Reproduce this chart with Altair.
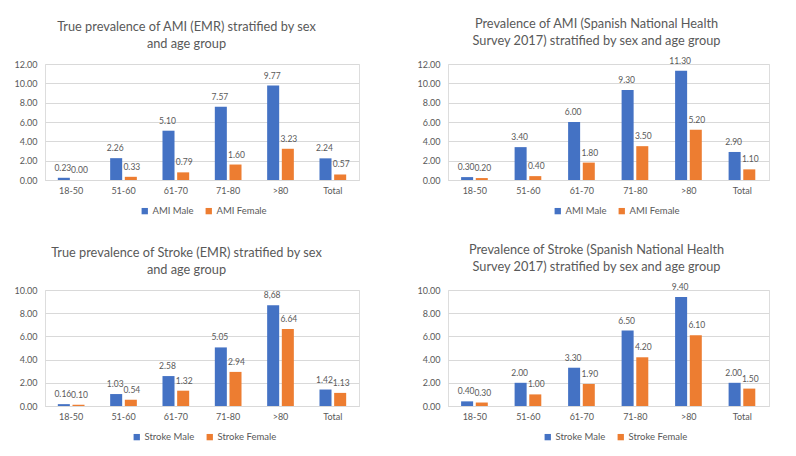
import altair as alt
import pandas as pd

categories = ["18-50", "51-60", "61-70", "71-80", ">80", "Total"]

ami_emr_male = [0.23, 2.26, 5.10, 7.57, 9.77, 2.24]
ami_emr_female = [0.00, 0.33, 0.79, 1.60, 3.23, 0.57]
ami_survey_male = [0.30, 3.40, 6.00, 9.30, 11.30, 2.90]
ami_survey_female = [0.20, 0.40, 1.80, 3.50, 5.20, 1.10]
stroke_emr_male = [0.16, 1.03, 2.58, 5.05, 8.68, 1.42]
stroke_emr_male_labels = ["0.16", "1.03", "2.58", "5.05", "8,68", "1.42"]
stroke_emr_female = [0.10, 0.54, 1.32, 2.94, 6.64, 1.13]
stroke_survey_male = [0.40, 2.00, 3.30, 6.50, 9.40, 2.00]
stroke_survey_female = [0.30, 1.00, 1.90, 4.20, 6.10, 1.50]

title_ami_emr = ["True prevalence of AMI (EMR) stratified by sex", "and age group"]
title_ami_survey = ["Prevalence of AMI (Spanish National Health", "Survey 2017) stratified by sex and age group"]
title_stroke_emr = ["True prevalence of Stroke (EMR) stratified by sex", "and age group"]
title_stroke_survey = ["Prevalence of Stroke (Spanish National Health", "Survey 2017) stratified by sex and age group"]

BLUE = "#4472C4"
ORANGE = "#ED7D31"
GREY = "#595959"
GRID = "#D9D9D9"
FONT = "Lato"
PLOT_H = 116


def panel(title_lines, disease, male, female, ymax, width, legend_x, frame, title_dx, male_labels=None):
    m_name = f"{disease} Male"
    f_name = f"{disease} Female"
    rows = []
    for i, c in enumerate(categories):
        ml = male_labels[i] if male_labels else f"{male[i]:.2f}"
        rows.append(dict(cat=c, sex="Male", series=m_name, value=male[i], label=ml))
        rows.append(dict(cat=c, sex="Female", series=f_name, value=female[i], label=f"{female[i]:.2f}"))
    df = pd.DataFrame(rows)
    base = alt.Chart(df).encode(
        x=alt.X("cat:N", sort=categories,
                scale=alt.Scale(paddingInner=0.49, paddingOuter=0.245),
                axis=alt.Axis(title=None, labelAngle=0, ticks=False, domainColor=GRID,
                              labelColor=GREY, labelFontSize=9, labelPadding=6, grid=False,
                              labelFont=FONT)),
        xOffset=alt.XOffset("sex:N", sort=["Male", "Female"], scale=alt.Scale(paddingInner=0.18)),
        y=alt.Y("value:Q", scale=alt.Scale(domain=[0, ymax], nice=False),
                axis=alt.Axis(title=None, values=list(range(0, ymax + 1, 2)), format=".2f",
                              ticks=False, domain=False, gridColor=GRID, labelColor=GREY,
                              labelFontSize=9, labelPadding=8, labelFont=FONT)),
    )
    bars = base.mark_bar().encode(
        color=alt.Color("series:N", sort=[m_name, f_name],
                        scale=alt.Scale(domain=[m_name, f_name], range=[BLUE, ORANGE]),
                        legend=alt.Legend(title=None, orient="none", legendX=legend_x,
                                          legendY=PLOT_H + 26, direction="horizontal",
                                          symbolType="square", symbolSize=40,
                                          symbolStrokeWidth=0, labelFontSize=9.5,
                                          labelColor=GREY, labelFont=FONT,
                                          columnPadding=10, labelOffset=3))
    )
    text_m = base.transform_filter(alt.datum.sex == "Male").mark_text(
        baseline="bottom", dy=-5, dx=-1, fontSize=8.5, color=GREY, font=FONT).encode(text="label:N")
    text_f = base.transform_filter(alt.datum.sex == "Female").mark_text(
        baseline="bottom", dy=-5, dx=1, fontSize=8.5, color=GREY, font=FONT).encode(text="label:N")
    return alt.layer(bars, text_m, text_f).properties(
        width=width, height=PLOT_H,
        title=alt.TitleParams(text=title_lines, fontSize=12.75, font=FONT, fontWeight="normal",
                              color=GREY, anchor="middle", frame=frame, lineHeight=17,
                              offset=9, dx=title_dx))


p1 = panel(title_ami_emr, "AMI", ami_emr_male, ami_emr_female, 12, 314, 95, "bounds", 0)
p2 = panel(title_ami_survey, "AMI", ami_survey_male, ami_survey_female, 12, 321, 105, "group", -12)
p3 = panel(title_stroke_emr, "Stroke", stroke_emr_male, stroke_emr_female, 10, 314, 87, "bounds", 0,
           male_labels=stroke_emr_male_labels)
p4 = panel(title_stroke_survey, "Stroke", stroke_survey_male, stroke_survey_female, 10, 321, 95, "group", -12)

row1 = alt.hconcat(p1, p2, spacing=56).resolve_scale(color="independent").resolve_legend(color="independent")
row2 = alt.hconcat(p3, p4, spacing=56).resolve_scale(color="independent").resolve_legend(color="independent")

chart = alt.vconcat(row1, row2, spacing=26).resolve_scale(color="independent").resolve_legend(
    color="independent").properties(padding={"left": 5, "top": 9, "right": 5, "bottom": 0}).configure_view(
    stroke=None).configure(background="white")

chart.save("out.html", embed_options={"renderer": "svg", "actions": False})
